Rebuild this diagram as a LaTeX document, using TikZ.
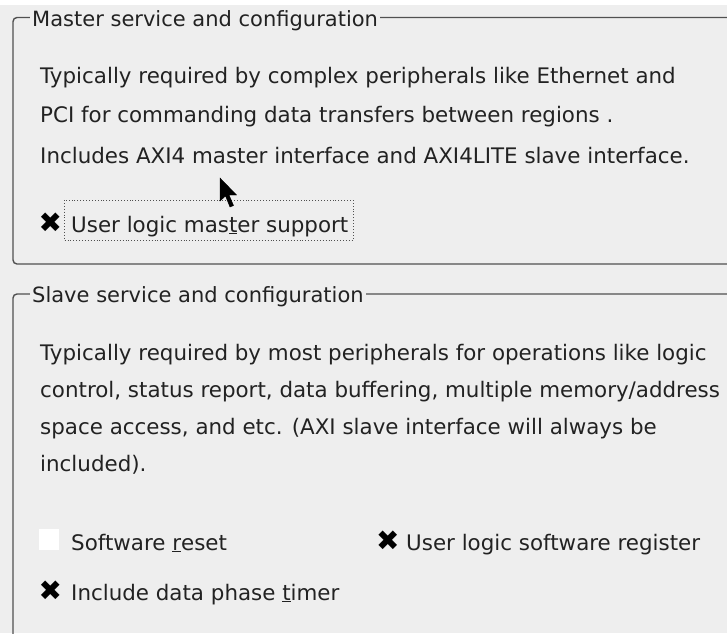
\documentclass[tikz,border=0pt]{standalone}
\usepackage{fontspec}
\setmainfont{DejaVu Sans}
\definecolor{panelbg}{HTML}{EEEEEE}
\definecolor{framegray}{HTML}{505050}
\definecolor{labeltext}{HTML}{222222}
\tikzset{
  panelframe/.style={draw=framegray, line width=1.4pt, rounded corners=4pt},
  paneltitle/.style={fill=panelbg, inner xsep=2.5pt, inner ysep=1pt, anchor=base west,
    text=labeltext, font=\fontsize{21}{25}\selectfont},
  bodyline/.style={anchor=base west, inner sep=0pt, text=labeltext,
    font=\fontsize{21.4}{26}\selectfont},
  tickmark/.style={anchor=base west, inner sep=0pt, text=black,
    font=\fontsize{28}{30}\selectfont}
}
\begin{document}
\begin{tikzpicture}[x=1pt, y=-1pt]
    % Background
    \useasboundingbox (0,0) rectangle (727,633);
    \clip (0,0) rectangle (727,633);
    \fill[white] (0,0) rectangle (727,633);
    \fill[panelbg] (0,5) rectangle (727,633);

    \pgfmathsetmacro{\xtext}{40}
    \pgfmathsetmacro{\xlabel}{71}

    % Master panel
    \draw[panelframe] (13,17.5) rectangle (760,264);
    \node[paneltitle] (mtitle) at (29.5,26) {Master service and configuration};
    \node[bodyline] (mline1) at (\xtext,83) {Typically required by complex peripherals like Ethernet and};
    \node[bodyline] (mline2) at (\xtext,122) {PCI for commanding data transfers between regions .};
    \node[bodyline] (mline3) at (\xtext,163) {Includes AXI4 master interface and AXI4LITE slave interface.};

    \node[tickmark] (mtick) at (38.5,232) {✖};
    \node[bodyline] (mopt) at (\xlabel,232) {User logic mas\underline{t}er support};
    \draw[framegray, dotted, line width=0.9pt] (64,200) rectangle (353,240);

    % Pointer
    \filldraw[black] (220,178) -- (220,201) -- (225.5,196) -- (230,207) -- (233.5,205.5)
        -- (229,195) -- (236.5,195) -- cycle;

    % Slave panel
    \draw[panelframe] (13,294) rectangle (760,700);
    \node[paneltitle] (stitle) at (29.5,302) {Slave service and configuration};
    \node[bodyline] (sline1) at (\xtext,360) {Typically required by most peripherals for operations like logic};
    \node[bodyline] (sline2) at (\xtext,397) {control, status report, data buffering, multiple memory/address};
    \node[bodyline] (sline3) at (\xtext,434) {space access, and etc. (AXI slave interface will always be};
    \node[bodyline] (sline4) at (\xtext,471) {included).};

    \fill[white] (38.5,529) rectangle (58.5,550);
    \node[bodyline] (sreset) at (\xlabel,550) {Software \underline{r}eset};
    \node[tickmark] (stick1) at (376,550) {✖};
    \node[bodyline] (sreg) at (406,550) {User logic software register};
    \node[tickmark] (stick2) at (38.5,600) {✖};
    \node[bodyline] (stimer) at (\xlabel,600) {Include data phase \underline{t}imer};
\end{tikzpicture}
\end{document}
